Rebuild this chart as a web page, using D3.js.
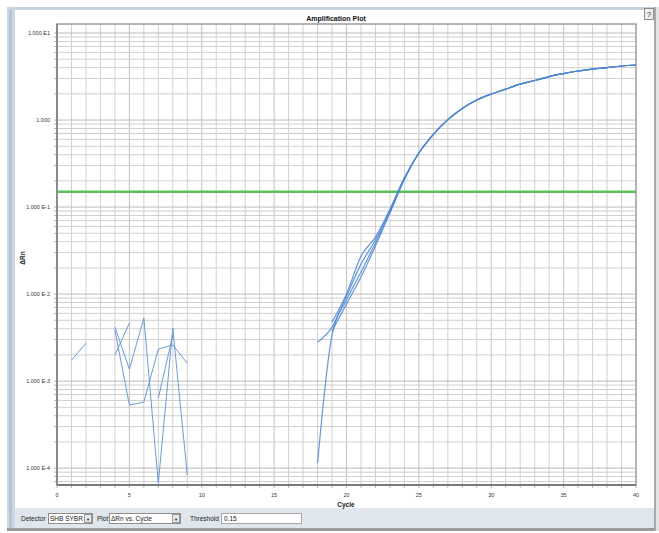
<!DOCTYPE html>
<html>
<head>
<meta charset="utf-8">
<style>
  body { margin: 0; background: #fff; }
  svg text { font-family: "Liberation Sans", Arial, sans-serif; }
</style>
</head>
<body>
<svg id="container" width="659" height="533"></svg>
<script src="https://cdn.jsdelivr.net/npm/d3@7"></script>
<script>
// ---- data ----
const cycleTicks = [0, 5, 10, 15, 20, 25, 30, 35, 40];
const yTickValues = [1e1, 1, 1e-1, 1e-2, 1e-3, 1e-4];
const yTickLabels = ["1.000 E1", "1.000", "1.000 E-1", "1.000 E-2", "1.000 E-3", "1.000 E-4"];
const threshold = 0.15;

// early-cycle noise (cycles 1..9), null = not drawn (negative / missing)
const noiseCycles = [1, 2, 3, 4, 5, 6, 7, 8, 9];
const noiseA = [0.00174, 0.00273, null, null, null, null, null, null, null];
const noiseB = [null, null, null, 0.00418, 0.00137, 0.0053, 0.000067, 0.00407, 0.000083];
const noiseC = [null, null, null, 0.00199, 0.00464, null, null, null, null];
const noiseD = [null, null, null, 0.00386, 0.00053, 0.000574, 0.00233, 0.0026, 0.00161];
const noiseE = [null, null, null, null, null, null, 0.000638, 0.00338, null];

// amplification replicates (cycles 18..40)
const ampCycles = d3.range(18, 41);
const ampPlateau = [0.418, 0.685, 1.01, 1.36, 1.70, 1.99, 2.27, 2.59, 2.85, 3.16, 3.42, 3.66, 3.85, 4.01, 4.18, 4.29];
const rep1 = [0.0028, 0.00418, 0.00948, 0.0221, 0.0418, 0.092, 0.214, ...ampPlateau];
const rep2 = [0.000114, 0.00338, 0.00853, 0.0179, 0.0386, 0.087, 0.209, ...ampPlateau];
const rep3 = [null, 0.00476, 0.0100, 0.0273, 0.0452, 0.094, 0.218, ...ampPlateau];
const rep4 = [null, 0.00376, 0.00767, 0.0157, 0.0356, 0.086, 0.207, ...ampPlateau];

const svg = d3.select("#container");

// ---- window chrome ----
svg.append("rect").attr("x", 7).attr("y", 7).attr("width", 648).attr("height", 3).attr("fill", "#c5d3e0");
svg.append("rect").attr("x", 7).attr("y", 7).attr("width", 8).attr("height", 522).attr("fill", "#c9d6e3");
svg.append("rect").attr("x", 9).attr("y", 10).attr("width", 3).attr("height", 519).attr("fill", "#b4c4d4");
svg.append("rect").attr("x", 15).attr("y", 508).attr("width", 640).attr("height", 20).attr("fill", "#dfe6ed");
svg.append("rect").attr("x", 7).attr("y", 528).attr("width", 652).attr("height", 3).attr("fill", "#9a9a9a");
svg.append("rect").attr("x", 654).attr("y", 7).attr("width", 2).attr("height", 524).attr("fill", "#a8a8a8");
svg.append("rect").attr("x", 656).attr("y", 7).attr("width", 3).attr("height", 524).attr("fill", "#e4e4e4");

// help button
svg.append("rect").attr("x", 644.5).attr("y", 8.5).attr("width", 9).attr("height", 11)
  .attr("fill", "#eeeeee").attr("stroke", "#8c8c8c");
svg.append("text").attr("x", 649).attr("y", 17).attr("text-anchor", "middle")
  .attr("font-size", 8).attr("fill", "#333").text("?");

// ---- scales ----
const x = d3.scaleLinear().domain([0, 40]).range([57, 636]);
const y = d3.scaleLog().domain([6.4e-5, 12.7]).range([485, 24]);
const [x0, x1] = x.range();
const [yb, yt] = y.range();

const plot = svg.append("g");

// grid
const vGrid = d3.range(1, 40);
plot.selectAll(".vg").data(vGrid).enter().append("line")
  .attr("x1", d => x(d)).attr("x2", d => x(d))
  .attr("y1", yt).attr("y2", yb)
  .attr("stroke", d => d % 5 === 0 ? "#c0c0c0" : "#d0d0d0").attr("stroke-width", 1);

const hGrid = [];
for (let e = -5; e <= 1; e++) {
  for (let m = 1; m <= 9; m++) {
    const v = m * Math.pow(10, e);
    if (v > y.domain()[0] && v < y.domain()[1]) hGrid.push({ v, major: m === 1 });
  }
}
plot.selectAll(".hg").data(hGrid).enter().append("line")
  .attr("x1", x0).attr("x2", x1)
  .attr("y1", d => y(d.v)).attr("y2", d => y(d.v))
  .attr("stroke", d => d.major ? "#bababa" : "#cfcfcf").attr("stroke-width", 1);

// small outside ticks
plot.selectAll(".lt").data(hGrid).enter().append("line")
  .attr("x1", x0 - 3).attr("x2", x0)
  .attr("y1", d => y(d.v)).attr("y2", d => y(d.v))
  .attr("stroke", "#b5b5b5");
plot.selectAll(".bt").data(d3.range(0, 41)).enter().append("line")
  .attr("x1", d => x(d)).attr("x2", d => x(d))
  .attr("y1", yb).attr("y2", yb + 3)
  .attr("stroke", "#b5b5b5");

// frame
plot.append("rect").attr("x", x0).attr("y", yt).attr("width", x1 - x0).attr("height", yb - yt)
  .attr("fill", "none").attr("stroke", "#9c9c9c").attr("stroke-width", 1.5);
plot.append("line").attr("x1", x0).attr("x2", x0).attr("y1", yt).attr("y2", yb)
  .attr("stroke", "#8a8a8a").attr("stroke-width", 2);
plot.append("line").attr("x1", x0).attr("x2", x1).attr("y1", yb).attr("y2", yb)
  .attr("stroke", "#666").attr("stroke-width", 1.6);

// clip
svg.append("clipPath").attr("id", "clip").append("rect")
  .attr("x", x0).attr("y", yt).attr("width", x1 - x0).attr("height", yb - yt);

const lines = plot.append("g").attr("clip-path", "url(#clip)");

// threshold
lines.append("line").attr("x1", x0).attr("x2", x1)
  .attr("y1", y(threshold)).attr("y2", y(threshold))
  .attr("stroke", "#5cbd5c").attr("stroke-width", 2.6);

const line = d3.line()
  .defined(d => d[1] != null)
  .x(d => x(d[0])).y(d => y(d[1]));
const smoothLine = d3.line()
  .defined(d => d[1] != null)
  .curve(d3.curveMonotoneX)
  .x(d => x(d[0])).y(d => y(d[1]));

const noiseSeries = [noiseA, noiseB, noiseC, noiseD, noiseE].map(s => noiseCycles.map((c, i) => [c, s[i]]));
const ampSeries = [rep1, rep2, rep3, rep4].map(s => ampCycles.map((c, i) => [c, s[i]]));

lines.selectAll(".noise").data(noiseSeries).enter().append("path")
  .attr("d", line).attr("fill", "none")
  .attr("stroke", "#5b8fd6").attr("stroke-width", 1).attr("stroke-opacity", 0.9);

lines.selectAll(".amp").data(ampSeries).enter().append("path")
  .attr("d", smoothLine).attr("fill", "none")
  .attr("stroke", "#4a86d2").attr("stroke-width", 1.2).attr("stroke-opacity", 0.85);

// ---- labels ----
svg.append("text").attr("x", 336).attr("y", 21).attr("text-anchor", "middle")
  .attr("font-size", 7).attr("font-weight", "bold").attr("fill", "#111")
  .text("Amplification Plot");

svg.selectAll(".ytl").data(yTickValues).enter().append("text")
  .attr("x", 50).attr("y", d => y(d) + 2)
  .attr("text-anchor", "end").attr("font-size", 5.5).attr("fill", "#333")
  .text((d, i) => yTickLabels[i]);

svg.selectAll(".xtl").data(cycleTicks).enter().append("text")
  .attr("x", d => x(d)).attr("y", 497)
  .attr("text-anchor", "middle").attr("font-size", 5.5).attr("fill", "#333")
  .text(d => d);

svg.append("text").attr("x", 346).attr("y", 507).attr("text-anchor", "middle")
  .attr("font-size", 6.5).attr("font-weight", "bold").attr("fill", "#111").text("Cycle");

svg.append("text").attr("transform", "translate(25,258) rotate(-90)")
  .attr("text-anchor", "middle").attr("font-size", 6.5).attr("font-weight", "bold")
  .attr("fill", "#111").text("ΔRn");

// ---- control bar ----
const ctrl = svg.append("g").attr("font-size", 6.5).attr("fill", "#222");
ctrl.append("text").attr("x", 21).attr("y", 520.5).text("Detector");
ctrl.append("rect").attr("x", 48.5).attr("y", 513.5).attr("width", 44).attr("height", 10)
  .attr("fill", "#fff").attr("stroke", "#8f8f8f");
ctrl.append("text").attr("x", 50).attr("y", 520.5).text("SHB SYBR");
ctrl.append("rect").attr("x", 84.5).attr("y", 514.5).attr("width", 7).attr("height", 8)
  .attr("fill", "#e8e8e8").attr("stroke", "#9a9a9a");
ctrl.append("text").attr("x", 88).attr("y", 520.5).attr("text-anchor", "middle").attr("font-size", 4).text("▼");

ctrl.append("text").attr("x", 97).attr("y", 520.5).text("Plot");
ctrl.append("rect").attr("x", 109.5).attr("y", 513.5).attr("width", 71).attr("height", 10)
  .attr("fill", "#fff").attr("stroke", "#8f8f8f");
ctrl.append("text").attr("x", 111).attr("y", 520.5).text("ΔRn vs. Cycle");
ctrl.append("rect").attr("x", 172.5).attr("y", 514.5).attr("width", 7).attr("height", 8)
  .attr("fill", "#e8e8e8").attr("stroke", "#9a9a9a");
ctrl.append("text").attr("x", 176).attr("y", 520.5).attr("text-anchor", "middle").attr("font-size", 4).text("▼");

ctrl.append("text").attr("x", 190).attr("y", 520.5).text("Threshold");
ctrl.append("rect").attr("x", 221.5).attr("y", 513.5).attr("width", 80).attr("height", 10)
  .attr("fill", "#fff").attr("stroke", "#a5a5a5");
ctrl.append("text").attr("x", 224).attr("y", 520.5).text("0.15");
</script>
</body>
</html>
